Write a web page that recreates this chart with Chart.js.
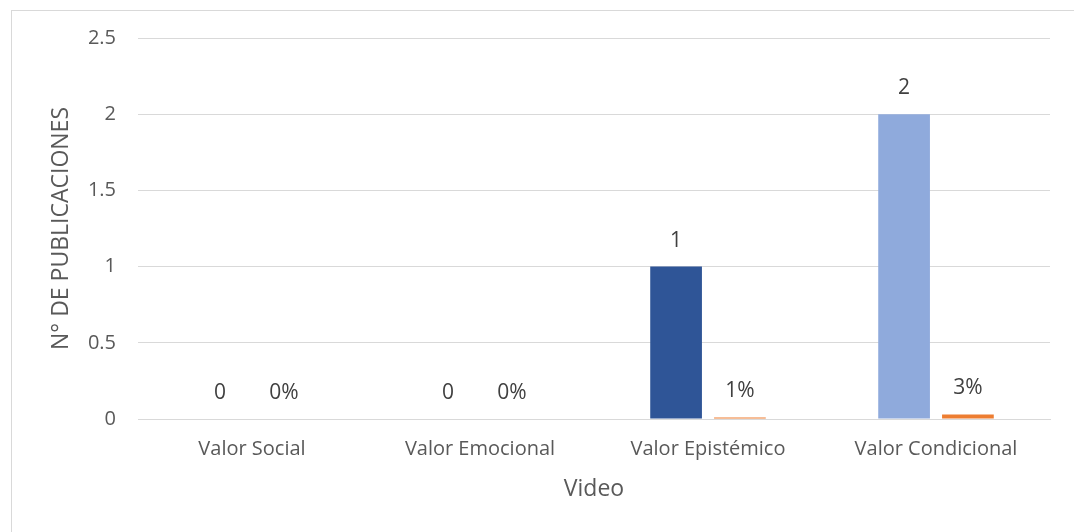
<!DOCTYPE html>
<html>
<head>
<meta charset="utf-8">
<script src="https://cdn.jsdelivr.net/npm/chart.js@4.4.0/dist/chart.umd.min.js"></script>
<style>
  html, body { margin: 0; padding: 0; background: #fff; overflow: hidden; }
  #wrap { position: relative; width: 1074px; height: 532px; }
  #frame { position: absolute; left: 11px; top: 10px; width: 1100px; height: 600px;
           border-left: 1px solid #d9d9d9; border-top: 1px solid #d9d9d9; box-sizing: border-box; }
  canvas { position: absolute; left: 0; top: 0; }
</style>
</head>
<body>
<div id="wrap">
  <div id="frame"></div>
  <canvas id="chart" width="1074" height="532"></canvas>
</div>
<script>
const categories = ["Valor Social", "Valor Emocional", "Valor Epistémico", "Valor Condicional"];
const publicaciones = [0, 0, 1, 2];
const porcentajes = [0, 0, 0.01, 0.03];
const pctLabels = ["0%", "0%", "1%", "3%"];
const yTicks = [0, 0.5, 1, 1.5, 2, 2.5];

const textColor = "#595959";
const labelColor = "#404040";
const fontFamily = "'Open Sans', 'Liberation Sans', sans-serif";

// draws the value labels above each bar
const valueLabels = {
  id: "valueLabels",
  afterDatasetsDraw(chart) {
    const ctx = chart.ctx;
    ctx.save();
    ctx.fillStyle = labelColor;
    ctx.font = "21px " + fontFamily;
    ctx.textAlign = "center";
    ctx.textBaseline = "middle";
    chart.data.datasets.forEach((ds, i) => {
      const meta = chart.getDatasetMeta(i);
      meta.data.forEach((bar, j) => {
        const txt = i === 0 ? String(ds.data[j]) : pctLabels[j];
        ctx.fillText(txt, bar.x, bar.y - 26);
      });
    });
    ctx.restore();
  }
};

new Chart(document.getElementById("chart"), {
  type: "bar",
  data: {
    labels: categories,
    datasets: [
      {
        label: "N° de publicaciones",
        data: publicaciones,
        backgroundColor: ["#2F5597", "#2F5597", "#2F5597", "#8FAADC"],
        categoryPercentage: 0.56,
        barPercentage: 0.81,
      },
      {
        label: "Porcentaje",
        data: porcentajes,
        backgroundColor: "#ED7D31",
        categoryPercentage: 0.56,
        barPercentage: 0.81,
      },
    ],
  },
  options: {
    responsive: false,
    animation: false,
    layout: { padding: { left: 0, top: 38, right: 24, bottom: 0 } },
    plugins: {
      legend: { display: false },
      tooltip: { enabled: false },
    },
    scales: {
      x: {
        grid: { display: false, drawTicks: false },
        border: { display: true, color: "#d9d9d9", width: 1 },
        ticks: { color: textColor, font: { size: 20, family: fontFamily }, padding: 18, maxRotation: 0 },
        title: { display: true, text: "Video", color: textColor, font: { size: 23, family: fontFamily }, padding: { top: 4, bottom: 29 } },
        afterFit(scale) { scale.height = 113; },
      },
      y: {
        min: 0,
        max: 2.5,
        afterBuildTicks(scale) { scale.ticks = yTicks.map(v => ({ value: v })); },
        grid: { color: "#d9d9d9", lineWidth: 1, drawTicks: false },
        border: { display: false },
        ticks: { color: textColor, font: { size: 20, family: fontFamily }, padding: 22, callback: v => String(v) },
        title: { display: true, text: "N° DE PUBLICACIONES", color: textColor, font: { size: 23, family: fontFamily }, padding: { top: 48, bottom: 48 } },
        afterFit(scale) { scale.width = 138; },
      },
    },
  },
  plugins: [valueLabels],
});
</script>
</body>
</html>
